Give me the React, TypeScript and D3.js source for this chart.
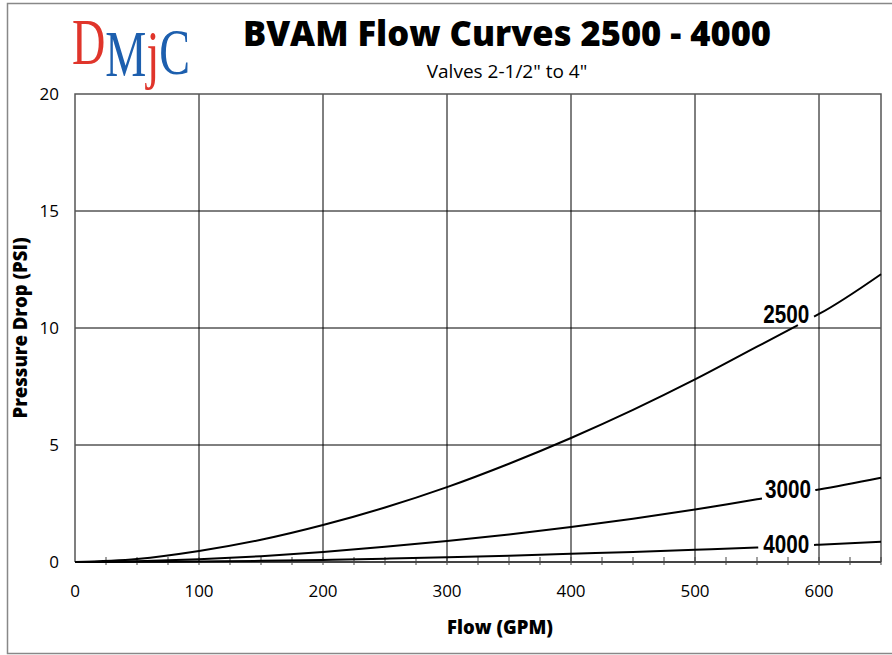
import { useEffect, useRef } from 'react';
import * as d3 from 'd3';

// flow (GPM) sample points and pressure drop (PSI)
const flows = [0, 50, 100, 150, 200, 250, 300, 350, 400, 450, 500, 550, 600, 650];
const drop2500 = [0, 0.13, 0.47, 0.95, 1.58, 2.33, 3.2, 4.2, 5.3, 6.5, 7.8, 9.2, 10.6, 12.3];
const drop3000 = [0, 0.035, 0.12, 0.25, 0.43, 0.65, 0.9, 1.18, 1.5, 1.85, 2.24, 2.68, 3.1, 3.6];
const drop4000 = [0, 0.008, 0.025, 0.05, 0.09, 0.14, 0.2, 0.27, 0.35, 0.43, 0.52, 0.62, 0.74, 0.87];

// label position (flow, psi of baseline) and the break in the line around it
const series = [
  { name: '2500', values: drop2500, gap: [583, 596], label: [555, 10.2] },
  { name: '3000', values: drop3000, gap: [554, 597], label: [556.5, 2.75] },
  { name: '4000', values: drop4000, gap: [551, 596], label: [555, 0.38] },
];

const xTicks = [0, 100, 200, 300, 400, 500, 600];
const yTicks = [0, 5, 10, 15, 20];

export default function App() {
  const svgRef = useRef<SVGSVGElement>(null);

  useEffect(() => {
    if (!svgRef.current) return;
    const W = 892, H = 655;
    const svg = d3.select(svgRef.current).attr('width', W).attr('height', H);
    svg.selectAll('*').remove();

    const sans = "'Open Sans', 'Noto Sans', sans-serif";
    const margin = { top: 94, left: 75, right: 11, bottom: 93 };
    const x = d3.scaleLinear().domain([0, 650]).range([margin.left, W - margin.right]);
    const y = d3.scaleLinear().domain([0, 20]).range([H - margin.bottom, margin.top]);

    svg.append('rect').attr('width', W).attr('height', H).attr('fill', '#fff');
    // outer frame
    svg.append('rect')
      .attr('x', 7.5).attr('y', 3.5).attr('width', W + 10).attr('height', 650)
      .attr('fill', 'none').attr('stroke', '#888').attr('stroke-width', 1.5);

    // logo
    const logo = svg.append('text')
      .attr('transform', 'translate(72,76) scale(0.7,1)')
      .attr('font-family', "'Liberation Serif', serif").attr('font-size', 66);
    logo.append('tspan').attr('fill', '#e0352b').attr('dy', -12).text('D');
    logo.append('tspan').attr('fill', '#1d5fae').attr('dy', 12).text('M');
    logo.append('tspan').attr('fill', '#e0352b').attr('dy', 0).text('j');
    logo.append('tspan').attr('fill', '#1d5fae').attr('dy', -2).text('C');

    // title
    svg.append('text').attr('x', 507).attr('y', 46).attr('text-anchor', 'middle')
      .attr('font-family', sans).attr('font-weight', 800).attr('font-size', 34.5).attr('fill', '#000')
      .text('BVAM Flow Curves 2500 - 4000');
    svg.append('text').attr('x', 507).attr('y', 78).attr('text-anchor', 'middle')
      .attr('font-family', sans).attr('font-size', 19).attr('fill', '#000')
      .text('Valves 2-1/2" to 4"');

    // grid
    const g = svg.append('g');
    g.selectAll('.vg').data(xTicks.filter(d => d > 0)).enter().append('line')
      .attr('x1', d => x(d)).attr('x2', d => x(d)).attr('y1', y(0)).attr('y2', y(20))
      .attr('stroke', '#000').attr('stroke-width', 1);
    g.selectAll('.hg').data(yTicks.filter(d => d > 0 && d < 20)).enter().append('line')
      .attr('x1', x(0)).attr('x2', x(650)).attr('y1', d => y(d)).attr('y2', d => y(d))
      .attr('stroke', '#000').attr('stroke-width', 1);

    // frame
    g.append('path')
      .attr('d', `M${x(0)},${y(0)}V${y(20)}H${x(650)}V${y(0)}`)
      .attr('fill', 'none').attr('stroke', '#555').attr('stroke-width', 1.5);
    g.append('line').attr('x1', x(0)).attr('x2', x(650)).attr('y1', y(0)).attr('y2', y(0))
      .attr('stroke', '#444').attr('stroke-width', 2);

    // minor ticks on x axis
    g.selectAll('.mt').data(d3.range(25, 651, 25)).enter().append('line')
      .attr('x1', d => x(d)).attr('x2', d => x(d)).attr('y1', y(0) - 5).attr('y2', y(0) + 3)
      .attr('stroke', '#444').attr('stroke-width', 1);

    // tick labels
    svg.selectAll('.xt').data(xTicks).enter().append('text')
      .attr('x', d => x(d)).attr('y', y(0) + 35).attr('text-anchor', 'middle')
      .attr('font-family', sans).attr('font-size', 17).attr('fill', '#000').text(d => d);
    svg.selectAll('.yt').data(yTicks).enter().append('text')
      .attr('x', x(0) - 16).attr('y', d => y(d) + 6).attr('text-anchor', 'end')
      .attr('font-family', sans).attr('font-size', 17).attr('fill', '#000').text(d => d);

    // axis titles
    svg.append('text').attr('x', 500).attr('y', 634).attr('text-anchor', 'middle')
      .attr('font-family', sans).attr('font-weight', 800).attr('font-size', 18.5).text('Flow (GPM)');
    svg.append('text').attr('transform', `translate(27,${y(10)}) rotate(-90)`).attr('text-anchor', 'middle')
      .attr('font-family', sans).attr('font-weight', 800).attr('font-size', 18.5).text('Pressure Drop (PSI)');

    // curves with a break next to each label
    const line = d3.line<[number, number]>().x(d => x(d[0])).y(d => y(d[1])).curve(d3.curveMonotoneX);
    series.forEach(s => {
      const pts: [number, number][] = flows.map((f, i) => [f, s.values[i]]);
      const interp = (f: number) => {
        const i = d3.bisectLeft(flows, f);
        const t = (f - flows[i - 1]) / (flows[i] - flows[i - 1]);
        return s.values[i - 1] + t * (s.values[i] - s.values[i - 1]);
      };
      const [a, b] = s.gap;
      const left: [number, number][] = [...pts.filter(p => p[0] < a), [a, interp(a)]];
      const right: [number, number][] = [[b, interp(b)], ...pts.filter(p => p[0] > b)];
      [left, right].forEach(seg => {
        g.append('path').attr('d', line(seg)!).attr('fill', 'none')
          .attr('stroke', '#000').attr('stroke-width', 2);
      });
      svg.append('text')
        .attr('x', x(s.label[0])).attr('y', y(s.label[1]))
        .attr('textLength', 46).attr('lengthAdjust', 'spacingAndGlyphs')
        .attr('font-family', "'Liberation Sans', sans-serif")
        .attr('font-weight', 700).attr('font-size', 25).attr('fill', '#000')
        .text(s.name);
    });
  }, []);

  return (
    <div style={{ position: 'absolute', left: 0, top: 0 }}>
      <svg ref={svgRef} style={{ display: 'block' }} />
    </div>
  );
}
